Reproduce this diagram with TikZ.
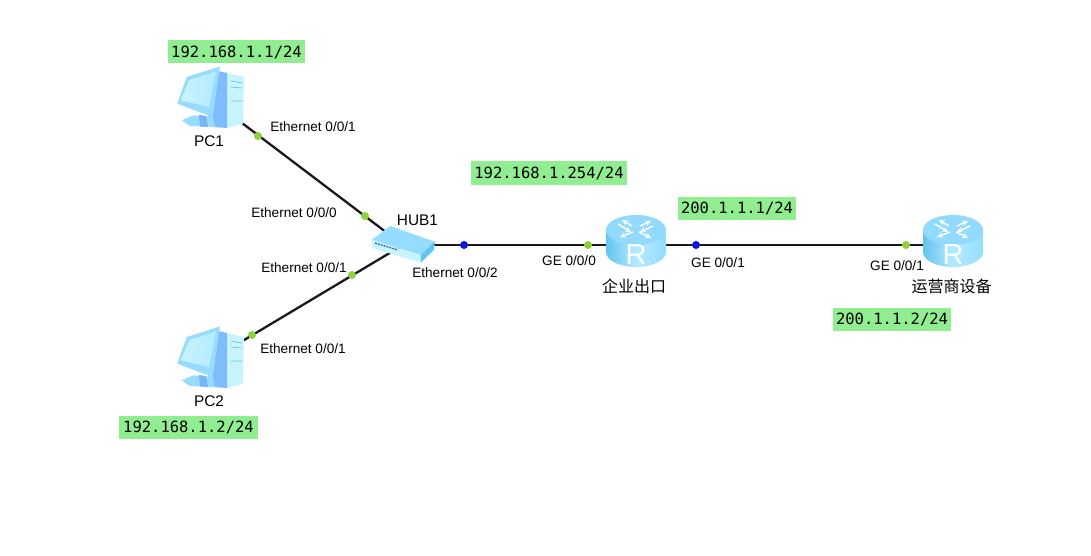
\documentclass[tikz,border=0pt]{standalone}
\usepackage{fontspec}
\setmainfont{Liberation Sans}
\newfontfamily\cjkfont{Noto Sans CJK SC}
\newfontfamily\ipfont{DejaVu Sans Mono}
\usetikzlibrary{arrows}
\definecolor{ipgreen}{HTML}{90EE90}
\definecolor{dotgreen}{HTML}{8CD23C}
\definecolor{dotblue}{HTML}{0A14E6}
\definecolor{iconlight}{HTML}{C8F4FF}
\definecolor{iconmid}{HTML}{96DCFF}
\definecolor{icondeep}{HTML}{78B4FA}
\definecolor{iconedge}{HTML}{62C4F0}

\tikzset{
  ip/.style={fill=ipgreen, inner sep=0pt, minimum height=23pt, font=\ipfont\fontsize{15.5}{17}\selectfont},
  port/.style={inner sep=0pt, font=\fontsize{13.6}{15}\selectfont},
  dev/.style={inner sep=0pt, font=\fontsize{15.4}{18}\selectfont},
  devcn/.style={inner sep=0pt, font=\cjkfont\fontsize{16}{18}\selectfont},
  anchorpt/.style={inner sep=0pt, minimum size=0pt},
  gdot/.style={circle, fill=dotgreen, inner sep=0pt, minimum size=8pt},
  bdot/.style={circle, fill=dotblue, inner sep=0pt, minimum size=8pt},
  link/.style={line width=2.3pt, black!90},
  topmark/.style={white, line width=1.5pt, -stealth},
  pcicon/.pic={
    \fill[iconlight] (18,-25) -- (35,-21) -- (34,25.7) -- (18,30) -- cycle;
    \fill[icondeep!80!iconmid] (9,-27) -- (18,-25) -- (18,30) -- (3.7,29) -- (-2,15) -- cycle;
    \fill[iconmid] (-27.3,22.3) -- (-15.7,17.3) -- (3.7,19) -- (6,29) -- (-19,28) -- cycle;
    \fill[icondeep] (-10,17) -- (-3,18) -- (-1,29) -- (-9,28.5) -- cycle;
    \fill[iconmid] (-22.3,-21) -- (11,-31.5) -- (3.7,19) -- (-31.7,5.7) -- cycle;
    \shade[left color=iconlight, right color=iconmid!40!iconlight]
      (-19.7,-18) -- (7,-26.5) -- (0.3,9) -- (-28.3,2.3) -- cycle;
    \draw[iconedge, line width=0.7pt]
      (22,-17) -- (33,-15)
      (22,-11) -- (33,-10)
      (22,3) -- (33,3);
  },
  routericon/.pic={
    \shade[left color=iconedge, right color=iconmid, middle color=iconlight!60!iconmid]
      (-30,-11) -- (-30,11) arc[start angle=180, end angle=0, x radius=30, y radius=15]
      -- (30,-11) -- cycle;
    \fill[iconmid!90!iconedge] (0,-11) ellipse (30 and 15);
    \draw[topmark] (-4,-15) -- (-14,-21);
    \draw[topmark] (-18,-17) -- (-5,-9);
    \draw[topmark] (4,-15) -- (15,-20);
    \draw[topmark] (17,-15) -- (4,-9);
    \draw[topmark] (-3,-9) -- (-16,-4);
    \draw[topmark] (3,-9) -- (15,-3);
    \node[inner sep=0pt, text=white, font=\fontsize{29}{30}\selectfont] (-mark) at (0,14) {R};
  },
  hubicon/.pic={
    \fill[iconmid] (-31.3,-4) -- (-13,-18) -- (32,-2.3) -- (17.7,11) -- cycle;
    \fill[iconlight] (-31.3,-4) -- (17.7,11) -- (17.7,18.7) -- (-30.3,4.3) -- cycle;
    \fill[iconedge] (17.7,11) -- (32,-2.3) -- (31,6) -- (17.7,18.7) -- cycle;
    \draw[icondeep!60!black, line width=1.4pt, dash pattern=on 2pt off 1pt]
      (-28,-1) -- (-5,6);
  }
}

\begin{document}
\begin{tikzpicture}[x=1pt, y=-1pt]
  \useasboundingbox (0,0) rectangle (1091,556);

  \node[anchorpt] (PCa) at (209,98) {};
  \node[anchorpt] (PCb) at (209,361) {};
  \node[anchorpt] (HUB) at (403,245) {};
  \node[anchorpt] (ENT) at (636,245) {};
  \node[anchorpt] (ISP) at (953,245) {};

  \draw[link] (PCa) -- (HUB);
  \draw[link] (PCb) -- (HUB);
  \draw[link] (HUB) -- (ENT);
  \draw[link] (ENT) -- (ISP);

  % icons over the link ends
  \pic at (209,98) {pcicon};
  \pic at (209,358) {pcicon};
  \pic at (403,244) {hubicon};
  \pic (ENTicon) at (636,241) {routericon};
  \pic (ISPicon) at (953,241) {routericon};

  \node[gdot] (dotPCa) at (258,136) {};
  \node[gdot] (dotHUBa) at (365,216) {};
  \node[gdot] (dotHUBb) at (352,275) {};
  \node[gdot] (dotPCb) at (252,335) {};
  \node[bdot] (dotHUBc) at (464,245) {};
  \node[gdot] (dotENTa) at (588,245) {};
  \node[bdot] (dotENTb) at (696,245) {};
  \node[gdot] (dotISP) at (906,245) {};

  \node[dev] (namePCa) at (209,141) {PC1};
  \node[dev] (namePCb) at (209,401) {PC2};
  \node[dev] (nameHUB) at (417.5,220) {HUB1};
  \node[devcn] (nameENT) at (634,286) {企业出口};
  \node[devcn] (nameISP) at (951.5,286) {运营商设备};

  \node[port] (portPCa) at (313,127) {Ethernet 0/0/1};
  \node[port] (portHUBa) at (294,213) {Ethernet 0/0/0};
  \node[port] (portHUBb) at (304,268) {Ethernet 0/0/1};
  \node[port] (portPCb) at (303,349) {Ethernet 0/0/1};
  \node[port] (portHUBc) at (455,273) {Ethernet 0/0/2};
  \node[port] (portENTa) at (569,261) {GE 0/0/0};
  \node[port] (portENTb) at (718,263) {GE 0/0/1};
  \node[port] (portISP) at (897,266) {GE 0/0/1};

  \node[ip, minimum width=137pt] (ipPCa) at (236.5,52) {192.168.1.1/24};
  \node[ip, minimum width=139pt] (ipPCb) at (188.5,427.5) {192.168.1.2/24};
  \node[ip, minimum width=156pt] (ipHUB) at (549,173) {192.168.1.254/24};
  \node[ip, minimum width=118pt] (ipENT) at (737,208.5) {200.1.1.1/24};
  \node[ip, minimum width=118pt] (ipISP) at (892,319) {200.1.1.2/24};
\end{tikzpicture}
\end{document}
